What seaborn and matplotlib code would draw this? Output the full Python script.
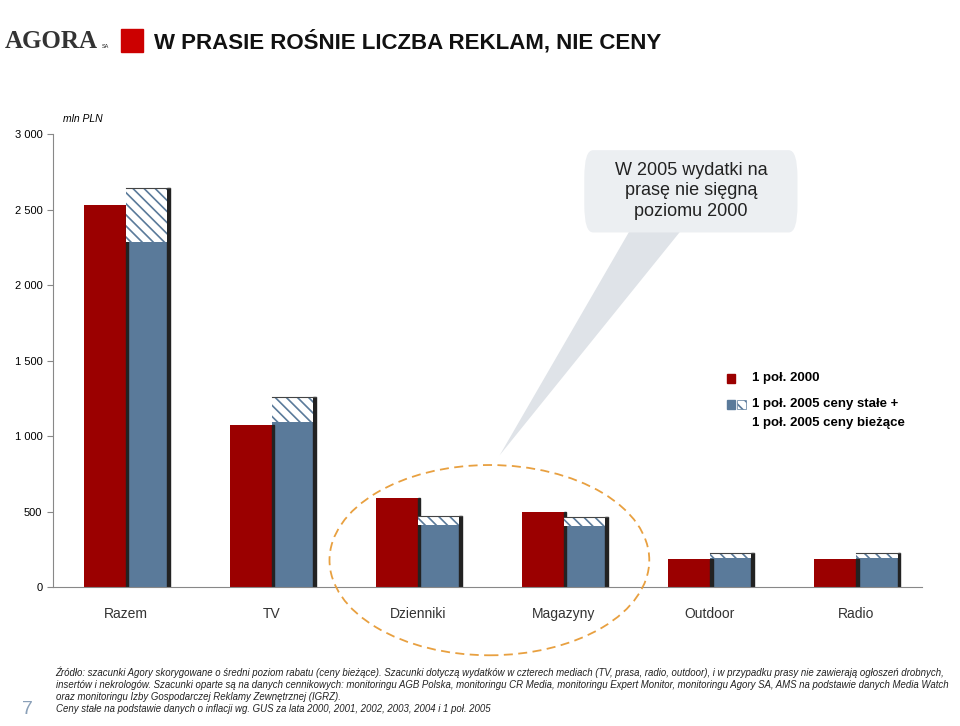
import matplotlib.pyplot as plt
import matplotlib.patches as mpatches
from matplotlib.patches import FancyBboxPatch, Ellipse, Polygon
import seaborn as sns
import pandas as pd

kategorie = ["Razem", "TV", "Dzienniki", "Magazyny", "Outdoor", "Radio"]
pol_2000 = [2530, 1072, 589, 496, 185, 185]
pol_2005_stale = [2290, 1092, 410, 404, 192, 192]
pol_2005_biezace = [2642, 1258, 470, 463, 225, 225]

RED = "#9b0000"
BLUE = "#5a7a9a"
plt.rcParams["font.family"] = "Liberation Sans"
plt.rcParams["hatch.color"] = BLUE
plt.rcParams["hatch.linewidth"] = 1.2

df = pd.DataFrame({
    "kategoria": kategorie * 2,
    "wartosc": pol_2000 + pol_2005_stale,
    "seria": ["2000"] * 6 + ["2005"] * 6,
})

fig = plt.figure(figsize=(9.6, 7.26), dpi=100)
ax = fig.add_axes([0.055, 0.191, 0.905, 0.624])
sns.barplot(data=df, x="kategoria", y="wartosc", hue="seria",
            palette=[RED, BLUE], saturation=1, width=0.57, ax=ax, legend=False,
            edgecolor="none")

bars = list(ax.patches[:12])
blue_patches = bars[6:12]
sw = 0.018
for i, p in enumerate(bars):
    top = p.get_height()
    if i >= 6:
        top = pol_2005_biezace[i - 6]
    ax.add_patch(mpatches.Rectangle((p.get_x() + p.get_width(), 0), sw, top,
                 color="#222222", zorder=1))
for i, p in enumerate(blue_patches):
    lo, hi = pol_2005_stale[i], pol_2005_biezace[i]
    ax.bar(p.get_x() + p.get_width() / 2, hi - lo, bottom=lo, width=p.get_width(),
           facecolor="white", edgecolor=BLUE, hatch="\\\\\\", linewidth=0, zorder=2)
    ax.plot([p.get_x(), p.get_x() + p.get_width() + sw], [hi, hi], color="#444444", lw=0.8, zorder=3)

ax.set_ylim(0, 3000)
ax.set_xlim(-0.5, 5.45)
ax.set_yticks(range(0, 3001, 500))
ax.set_yticklabels(["0", "500", "1 000", "1 500", "2 000", "2 500", "3 000"])
ax.set_xlabel("")
ax.set_ylabel("")
for s in ["top", "right"]:
    ax.spines[s].set_visible(False)
ax.spines["left"].set_color("#888888")
ax.spines["bottom"].set_color("#888888")
ax.tick_params(axis="y", labelsize=8, color="#888888", length=4)
ax.tick_params(axis="x", length=0, pad=14, labelsize=10)
for t in ax.get_xticklabels():
    t.set_color("#333333")
ax.text(0.012, 3080, "mln PLN", fontsize=7.5, style="italic", ha="left", transform=ax.get_yaxis_transform())

# callout bubble
ax.add_patch(Polygon([(2.56, 874), (3.45, 2360), (3.8, 2360)], closed=True,
                     facecolor="#dfe3e8", edgecolor="none", zorder=4))
ax.add_patch(FancyBboxPatch((3.14, 2350), 1.46, 545, boxstyle="round,pad=0,rounding_size=0.06",
                            facecolor="#eceff2", edgecolor="none", zorder=4,
                            mutation_aspect=3000))
ax.text(3.87, 2625, "W 2005 wydatki na\nprasę nie sięgną\npoziomu 2000", ha="center", va="center",
        fontsize=13, color="#222222", zorder=5, linespacing=1.3)

# dashed ellipse
ax.add_patch(Ellipse((2.49, 180), 2.19, 1260, fill=False, edgecolor="#e8a040",
                     linestyle=(0, (5, 3)), lw=1.3, zorder=6, clip_on=False))

# legend
fig.patches.append(mpatches.Rectangle((0.757, 0.473), 0.009, 0.012, color=RED, transform=fig.transFigure))
fig.patches.append(mpatches.Rectangle((0.757, 0.437), 0.009, 0.012, color=BLUE, transform=fig.transFigure))
fig.patches.append(mpatches.Rectangle((0.768, 0.437), 0.009, 0.012, facecolor="white", edgecolor=BLUE,
                   hatch="\\\\\\", lw=0.5, transform=fig.transFigure))
fig.text(0.783, 0.479, "1 poł. 2000", fontsize=9.5, fontweight="bold", va="center")
fig.text(0.783, 0.443, "1 poł. 2005 ceny stałe +", fontsize=9.5, fontweight="bold", va="center")
fig.text(0.783, 0.417, "1 poł. 2005 ceny bieżące", fontsize=9.5, fontweight="bold", va="center")

# header
fig.text(0.005, 0.943, "AGORA", fontsize=18, family="Liberation Serif", fontweight="bold",
         color="#333333", va="center")
fig.text(0.106, 0.936, "SA", fontsize=4, color="#222222", va="center")
fig.patches.append(mpatches.Rectangle((0.126, 0.928), 0.023, 0.032, color="#cc0000", transform=fig.transFigure))
fig.text(0.16, 0.943, "W PRASIE ROŚNIE LICZBA REKLAM, NIE CENY", fontsize=16, fontweight="bold",
         color="#111111", va="center")

# footnotes
fig.text(0.023, 0.023, "7", fontsize=14, color="#8aa0b8", va="center")
fig.text(0.058, 0.082,
         "Źródło: szacunki Agory skorygowane o średni poziom rabatu (ceny bieżące). Szacunki dotyczą wydatków w czterech mediach (TV, prasa, radio, outdoor), i w przypadku prasy nie zawierają ogłoszeń drobnych,\n"
         "insertów i nekrologów. Szacunki oparte są na danych cennikowych: monitoringu AGB Polska, monitoringu CR Media, monitoringu Expert Monitor, monitoringu Agory SA, AMS na podstawie danych Media Watch\n"
         "oraz monitoringu Izby Gospodarczej Reklamy Zewnętrznej (IGRZ).\n"
         "Ceny stałe na podstawie danych o inflacji wg. GUS za lata 2000, 2001, 2002, 2003, 2004 i 1 poł. 2005",
         fontsize=6.9, style="italic", va="top", linespacing=1.25, color="#222222")

fig.savefig("out.png", dpi=100)
